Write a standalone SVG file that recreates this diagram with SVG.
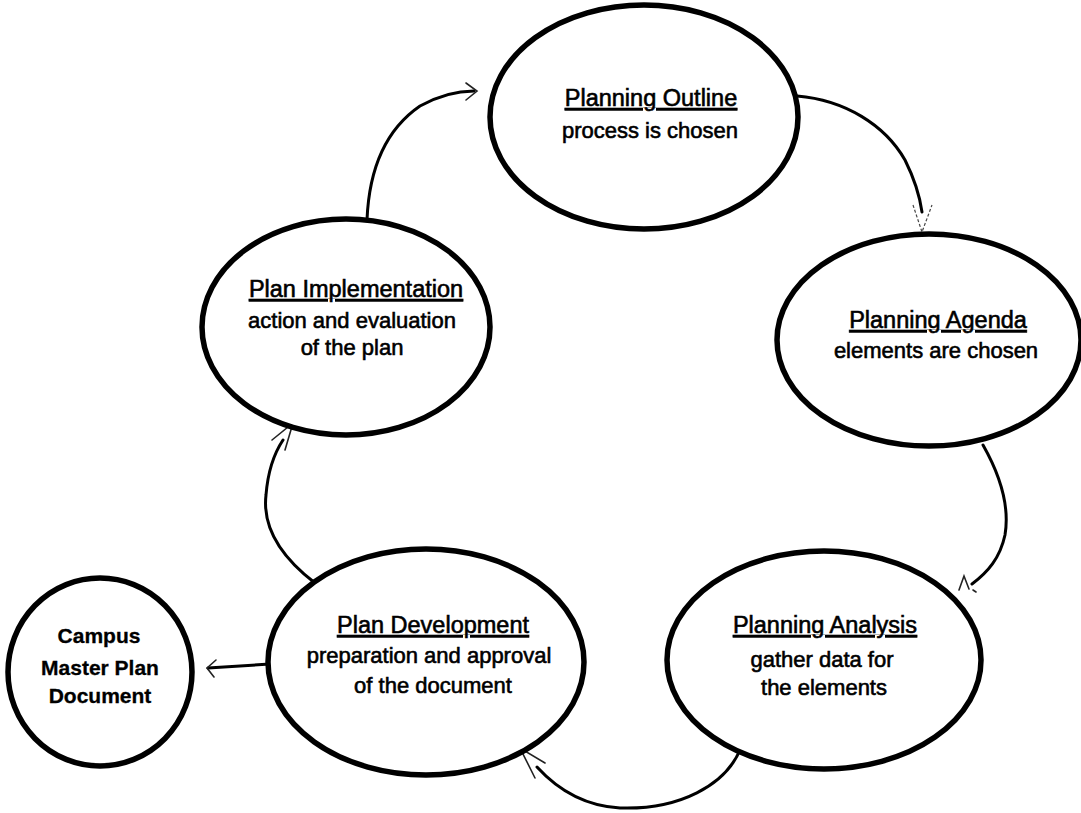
<svg xmlns="http://www.w3.org/2000/svg" width="1081" height="813" viewBox="0 0 1081 813">
  <style>
    .node { fill: #ffffff; stroke: #000000; stroke-width: 5.5; }
    .title { font-family: "Liberation Sans", Arial, sans-serif; font-size: 23.5px; text-anchor: middle; text-decoration: underline; fill: #000; stroke: #000; stroke-width: 0.6; }
    .sub { font-family: "Liberation Sans", Arial, sans-serif; font-size: 22px; text-anchor: middle; fill: #000; stroke: #000; stroke-width: 0.6; }
    .bold { font-family: "Liberation Sans", Arial, sans-serif; font-size: 21px; font-weight: bold; text-anchor: middle; fill: #000; stroke: #000; stroke-width: 0.3; }
    .link { fill: none; stroke: #000000; stroke-width: 3; stroke-linecap: round; }
    .head { fill: none; stroke: #222222; stroke-width: 1.6; stroke-linecap: round; stroke-linejoin: miter; }
    .head-dash { fill: none; stroke: #444444; stroke-width: 1.2; stroke-dasharray: 3 2; }
  </style>

  <rect width="1081" height="813" fill="#ffffff"/>

  <!-- connectors -->
  <g id="connectors">
    <!-- implementation to outline -->
    <path class="link" d="M367,220 C369,170 385,130 420,106 C440,95 458,91 474,91"/>
    <path class="head" d="M466,83 L477,91 L466,100"/>
    <!-- outline to agenda -->
    <path class="link" d="M797,96 C845,100 885,125 905,160 C915,180 920,198 922,212"/>
    <path class="head-dash" d="M913,205 L922,232 L932,205"/>
    <!-- agenda to analysis -->
    <path class="link" d="M983,445 C1000,475 1010,505 1005,535 C1000,558 988,572 972,584"/>
    <path class="head" d="M959,590 L964,576 L969,589"/>
    <path class="head" d="M973,590 L976,592"/>
    <!-- analysis to development -->
    <path class="link" d="M740,750 C725,785 680,810 620,808 C585,806 558,790 537,767"/>
    <path class="head" d="M535,778 L520,748 L545,763"/>
    <!-- development to implementation -->
    <path class="link" d="M315,583 C285,560 262,530 266,495 C268,470 275,452 283,440"/>
    <path class="head" d="M272,440 L293,423 L285,450"/>
    <!-- development to campus document -->
    <path class="link" d="M270,664 L208,668"/>
    <path class="head" d="M216,660 L207,668 L214,677"/>
  </g>

  <g id="planning-outline">
    <ellipse class="node" cx="644" cy="117" rx="154" ry="112"/>
    <text class="title" x="651" y="106">Planning Outline</text>
    <text class="sub" x="650" y="138">process is chosen</text>
  </g>

  <g id="planning-agenda">
    <ellipse class="node" cx="929" cy="340" rx="152" ry="106"/>
    <text class="title" x="938" y="328">Planning Agenda</text>
    <text class="sub" x="936" y="358">elements are chosen</text>
  </g>

  <g id="planning-analysis">
    <ellipse class="node" cx="824" cy="660" rx="157" ry="109"/>
    <text class="title" x="825" y="633">Planning Analysis</text>
    <text class="sub" x="822" y="667">gather data for</text>
    <text class="sub" x="824" y="695">the elements</text>
  </g>

  <g id="plan-development">
    <ellipse class="node" cx="426" cy="662" rx="158" ry="113"/>
    <text class="title" x="433" y="633">Plan Development</text>
    <text class="sub" x="429" y="663">preparation and approval</text>
    <text class="sub" x="433" y="693">of the document</text>
  </g>

  <g id="plan-implementation">
    <ellipse class="node" cx="346" cy="327" rx="144" ry="108"/>
    <text class="title" x="356" y="297">Plan Implementation</text>
    <text class="sub" x="352" y="328">action and evaluation</text>
    <text class="sub" x="352" y="355">of the plan</text>
  </g>

  <g id="campus-document">
    <ellipse class="node" cx="100" cy="672" rx="92" ry="94"/>
    <text class="bold" x="99" y="643">Campus</text>
    <text class="bold" x="100" y="675">Master Plan</text>
    <text class="bold" x="100" y="703">Document</text>
  </g>
</svg>
